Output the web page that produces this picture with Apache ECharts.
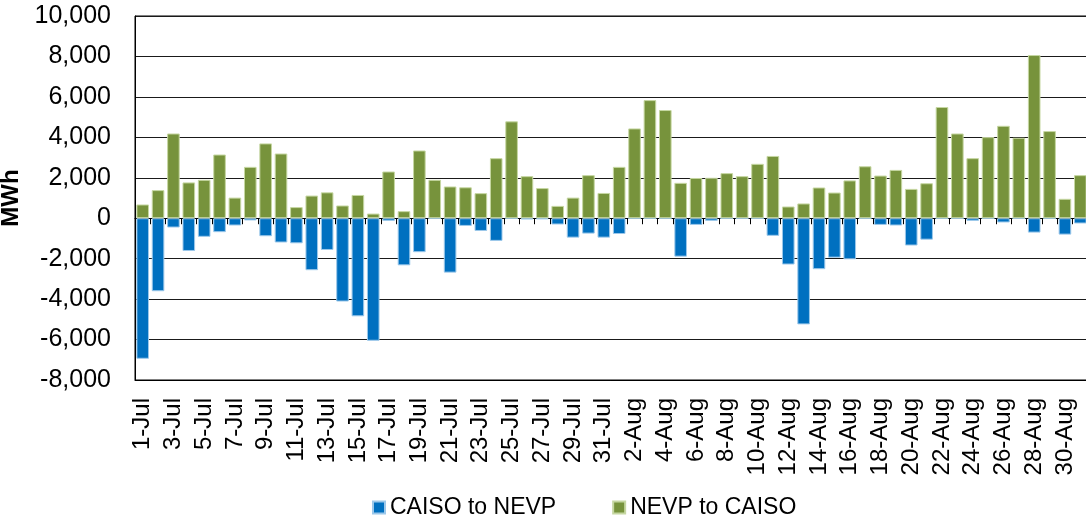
<!DOCTYPE html>
<html>
<head>
<meta charset="utf-8">
<script src="https://cdn.jsdelivr.net/npm/echarts@6/dist/echarts.min.js"></script>
<style>
  html, body { margin: 0; padding: 0; background: #fff; }
  #chart { width: 1086px; height: 518px; }
</style>
</head>
<body>
<div id="chart"></div>
<script>
// Daily interchange energy, July–August (MWh)
const days = [
  '1-Jul','2-Jul','3-Jul','4-Jul','5-Jul','6-Jul','7-Jul','8-Jul','9-Jul','10-Jul',
  '11-Jul','12-Jul','13-Jul','14-Jul','15-Jul','16-Jul','17-Jul','18-Jul','19-Jul','20-Jul',
  '21-Jul','22-Jul','23-Jul','24-Jul','25-Jul','26-Jul','27-Jul','28-Jul','29-Jul','30-Jul','31-Jul',
  '1-Aug','2-Aug','3-Aug','4-Aug','5-Aug','6-Aug','7-Aug','8-Aug','9-Aug','10-Aug',
  '11-Aug','12-Aug','13-Aug','14-Aug','15-Aug','16-Aug','17-Aug','18-Aug','19-Aug','20-Aug',
  '21-Aug','22-Aug','23-Aug','24-Aug','25-Aug','26-Aug','27-Aug','28-Aug','29-Aug','30-Aug','31-Aug'
];

// Flows from CAISO into NEVP, shown below zero
const caisoToNevp = [
  -6950, -3610, -460, -1620, -920, -690, -360, -110, -890, -1200,
  -1240, -2570, -1570, -4120, -4850, -6060, -130, -2330, -1680, 0,
  -2690, -380, -630, -1120, 0, -60, -50, -310, -960, -760, -960,
  -780, 0, 0, 0, -1900, -330, -130, 0, 0, 0,
  -870, -2290, -5250, -2520, -1950, -2030, 0, -330, -360, -1350,
  -1060, 0, 0, -130, 0, -210, 0, -710, 0, -810, -260
];

// Flows from NEVP into CAISO, shown above zero
const nevpToCaiso = [
  680, 1390, 4190, 1770, 1900, 3150, 1020, 2540, 3700, 3200,
  550, 1120, 1280, 630, 1150, 230, 2310, 350, 3350, 1900,
  1570, 1530, 1240, 2970, 4790, 2080, 1490, 610, 1020, 2130, 1250,
  2540, 4440, 5840, 5350, 1750, 1990, 2000, 2230, 2080, 2690,
  3080, 580, 730, 1520, 1270, 1870, 2570, 2110, 2390, 1450,
  1730, 5500, 4190, 2970, 4010, 4570, 3980, 8070, 4310, 960, 2130
];

const yMin = -8000;
const yMax = 10000;
const yStep = 2000;

const FONT = '"Liberation Sans", Arial, sans-serif';

const chart = echarts.init(document.getElementById('chart'), null, { renderer: 'canvas' });

chart.setOption({
  animation: false,
  backgroundColor: '#ffffff',
  textStyle: { fontFamily: FONT, color: '#000' },
  grid: {
    left: 135, right: -2, top: 16, bottom: 138,
    containLabel: false, outerBoundsMode: 'none',
    show: true, borderColor: '#000', borderWidth: 1, backgroundColor: 'transparent'
  },
  legend: {
    left: 367, top: 491,
    itemWidth: 12, itemHeight: 12, itemGap: 56,
    icon: 'rect',
    textStyle: { fontFamily: FONT, fontSize: 23, color: '#000' },
    data: ['CAISO to NEVP', 'NEVP to CAISO']
  },
  xAxis: [
    {
      // zero line with a tick between each day
      type: 'category', data: days, position: 'bottom',
      axisLine: { onZero: true, lineStyle: { color: '#000', width: 1 } },
      axisTick: { show: true, interval: 0, length: 6, lineStyle: { color: '#000' } },
      axisLabel: { show: false }
    },
    {
      // date labels along the bottom of the plot
      type: 'category', data: days, position: 'bottom',
      axisLine: { onZero: false, lineStyle: { color: '#000', width: 1 } },
      axisTick: { show: false },
      axisLabel: {
        interval: 1, rotate: 90, margin: 18,
        fontFamily: FONT, fontSize: 24, color: '#000'
      }
    }
  ],
  yAxis: {
    type: 'value', min: yMin, max: yMax, interval: yStep,
    name: 'MWh', nameLocation: 'middle', nameGap: 108, nameRotate: 90,
    nameTextStyle: { fontFamily: FONT, fontSize: 24, fontWeight: 'bold', color: '#000' },
    axisLine: { show: true, lineStyle: { color: '#000' } },
    axisTick: { show: false },
    axisLabel: {
      margin: 24, fontFamily: FONT, fontSize: 25, color: '#000',
      formatter: v => v.toLocaleString('en-US')
    },
    splitLine: { show: true, lineStyle: { color: '#1a1a1a', width: 1 } }
  },
  series: [
    {
      name: 'CAISO to NEVP', type: 'bar', stack: 'flow', data: caisoToNevp,
      barWidth: '82%',
      itemStyle: { color: '#0070C0', borderColor: '#9cc8ea', borderWidth: 1 },
      z: 2
    },
    {
      name: 'NEVP to CAISO', type: 'bar', stack: 'flow', data: nevpToCaiso,
      barWidth: '82%',
      itemStyle: { color: '#77933C', borderColor: '#c6d7a2', borderWidth: 1 },
      z: 2
    }
  ]
});
</script>
</body>
</html>
